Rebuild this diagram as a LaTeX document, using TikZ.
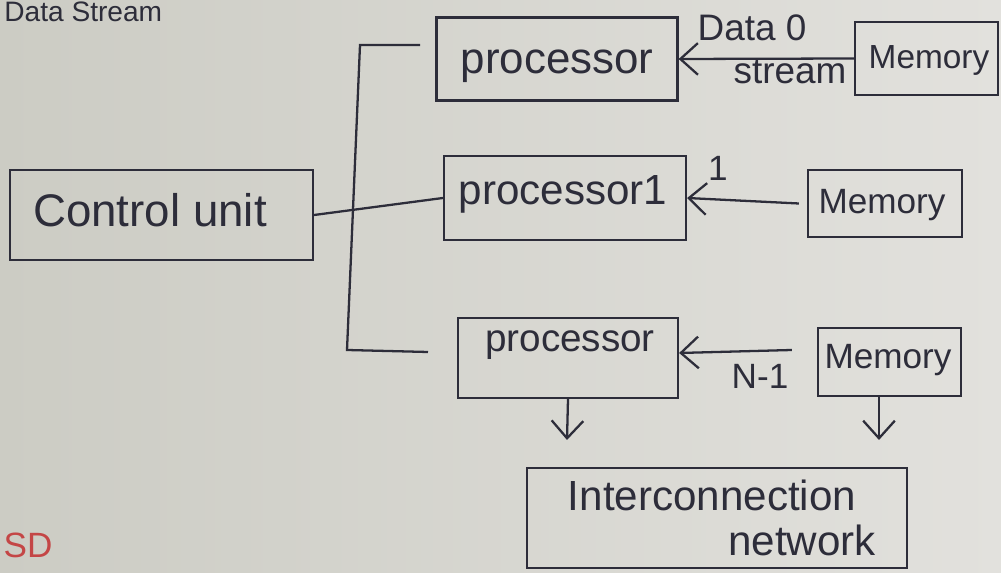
\documentclass[tikz,border=0pt]{standalone}
\usepackage{fontspec}
\setmainfont{Liberation Sans}
\usetikzlibrary{arrows.meta}
\definecolor{ink}{RGB}{45,45,58}
\definecolor{paperL}{RGB}{204,204,196}
\definecolor{paperR}{RGB}{226,225,221}
\definecolor{redink}{RGB}{196,70,70}
\tikzset{
  box/.style={draw=ink, line width=1.3pt, rectangle, inner sep=0pt},
  lbl/.style={text=ink, inner sep=0pt},
  wire/.style={draw=ink, line width=1.3pt},
  arr/.style={draw=ink, line width=1.3pt, -{Straight Barb[length=10pt,width=18pt,line width=1.3pt]}},
}
\newcommand{\hs}[1]{\fontsize{#1}{#1}\selectfont}
\begin{document}
\begin{tikzpicture}[x=0.02cm,y=-0.02cm]
  % paper
  \path[left color=paperL, right color=paperR] (0,0) rectangle (1001,573);
  \useasboundingbox (0,0) rectangle (1001,573);

  % heading in the top corner
  \node[lbl, anchor=base west] (head) at (4,22) {\hs{16}Data Stream};

  % control unit and processors
  \node[box, minimum width=303*0.02cm, minimum height=90*0.02cm] (cu) at (161.5,215) {};
  \node[lbl] (cut) at (150,210) {\hs{26}Control unit};

  \node[box, minimum width=241*0.02cm, minimum height=83*0.02cm] (p0) at (557,59) {};
  \node[lbl] (p0t) at (557,66) {\hs{25}processor};

  \node[box, minimum width=242*0.02cm, minimum height=84*0.02cm] (p1) at (565,198) {};
  \node[lbl] (p1t) at (563,194) {\hs{24}processor1};

  \node[box, minimum width=220*0.02cm, minimum height=80*0.02cm] (pN) at (568,358) {};
  \node[lbl] (pNt) at (570,345) {\hs{22}processor};

  % memories
  \node[box, minimum width=143*0.02cm, minimum height=73*0.02cm] (m0) at (926.5,58.5) {};
  \node[lbl] (m0t) at (929,60) {\hs{19}Memory};

  \node[box, minimum width=154*0.02cm, minimum height=67*0.02cm] (m1) at (885,203.5) {};
  \node[lbl] (m1t) at (882,205) {\hs{20}Memory};

  \node[box, minimum width=143*0.02cm, minimum height=68*0.02cm] (mN) at (889.5,362) {};
  \node[lbl] (mNt) at (888,360) {\hs{20}Memory};

  % interconnection network
  \node[box, minimum width=380*0.02cm, minimum height=100*0.02cm] (net) at (717,518) {};
  \node[lbl] (nett1) at (712,495) {\hs{24}Interconnection};
  \node[lbl] (nett2) at (802,540) {\hs{24}network};

  % control bus
  \coordinate (bt) at (420,45);
  \coordinate (bb) at (428,352);
  \draw[wire] (bt) -- (360,45) -- (347,350) -- (bb);
  \draw[wire] (cu.east) -- (p1.west);

  % data streams
  \draw[arr] (m0.west) -- (p0.east);
  \node[lbl] (d0a) at (752,28) {\hs{21}Data 0};
  \node[lbl] (d0b) at (790,72) {\hs{21}stream};

  \draw[arr] ([xshift=-0.16cm]m1.west) -- (p1.east);
  \node[lbl] (d1) at (718,168) {\hs{20}1};

  \draw[arr] ([shift={(-25,-12)}]mN.west) -- ([shift={(0,-5)}]pN.east);
  \node[lbl] (dN) at (760,376) {\hs{20}N-1};

  % outputs toward the network
  \coordinate (pNo) at (567,440);
  \coordinate (mNo) at (879,440);
  \draw[arr] (pN.south) -- (pNo);
  \draw[arr] (mN.south -| mNo) -- (mNo);

  % initials
  \node[inner sep=0pt, text=redink] (sd) at (28,545) {\hs{20}SD};
\end{tikzpicture}
\end{document}
